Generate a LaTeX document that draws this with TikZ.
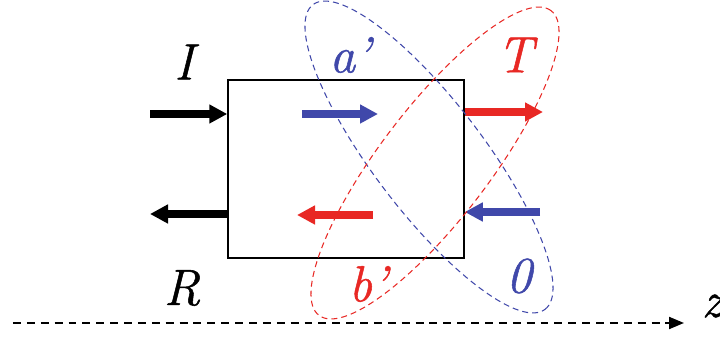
\documentclass[tikz,border=0pt]{standalone}
\usepackage{fontspec}
\setmainfont{Latin Modern Roman}[ItalicFeatures={FakeBold=1}]
\usetikzlibrary{arrows.meta}

\definecolor{bleu}{RGB}{64,72,170}
\definecolor{rouge}{RGB}{232,40,36}

\tikzset{
    onde/.style={line width=4pt, -{Triangle[length=0.36cm, width=0.36cm]}},
    etiq/.style={font=\fontsize{29}{31}\selectfont\itshape, inner sep=0pt},
    boucle/.style={line width=0.6pt, dash pattern=on 3.4pt off 2.3pt},
}

\begin{document}
\begin{tikzpicture}[>=stealth]
    \useasboundingbox (0,0) rectangle (14.4,6.76);

    % Lame
    \node[draw, line width=0.85pt, minimum width=4.72cm, minimum height=3.56cm, inner sep=0pt] (lame) at (6.92,3.38) {};

    % Ondes externes
    \coordinate (Idep) at (3.0,4.48);
    \coordinate (Rfin) at (3.0,2.48);
    \draw[onde] (Idep) -- (Idep -| lame.west);
    \draw[onde] (Rfin -| lame.west) -- (Rfin);
    \node[etiq] (I) at (3.68,5.52) {I};
    \node[etiq] (R) at (3.64,1.0) {R};

    % Ondes internes
    \coordinate (adep) at (6.04,4.48);
    \coordinate (afin) at (7.56,4.48);
    \coordinate (bdep) at (7.46,2.46);
    \coordinate (bfin) at (5.94,2.46);
    \draw[onde, bleu] (adep) -- (afin);
    \draw[onde, rouge] (bdep) -- (bfin);

    % Ondes a droite
    \coordinate (Tfin) at (10.86,4.52);
    \coordinate (Zdep) at (10.8,2.52);
    \draw[onde, rouge] (Tfin -| lame.east) -- (Tfin);
    \draw[onde, bleu] (Zdep) -- (Zdep -| lame.east);

    % Etiquettes
    \node[etiq, bleu] (a) at (7.0,5.66) {a’};
    \node[etiq, rouge] (T) at (10.3,5.66) {T};
    \node[etiq, rouge] (b) at (7.36,1.08) {b’};
    \node[etiq, bleu] (zero) at (10.38,1.24) {0};

    % Boucles pointillees
    \coordinate (cB) at (8.58,3.62);
    \coordinate (cR) at (8.70,3.50);
    \draw[boucle, bleu, rotate around={-52.7:(cB)}] (cB) ellipse (3.83 and 1.1);
    \draw[boucle, rouge, rotate around={52.7:(cR)}] (cR) ellipse (3.83 and 1.1);

    % Axe z
    \coordinate (zdep) at (0.26,0.3);
    \coordinate (zfin) at (13.68,0.3);
    \draw[line width=1.2pt, dash pattern=on 4.5pt off 3.4pt, -{Triangle[length=0.3cm, width=0.24cm]}] (zdep) -- (zfin);
    \node[etiq] (z) at (14.24,0.64) {z};
\end{tikzpicture}
\end{document}
